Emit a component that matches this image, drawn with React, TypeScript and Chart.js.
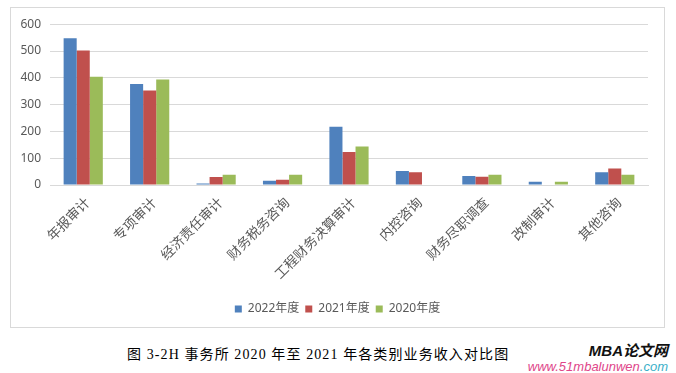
import React, { useEffect, useRef } from "react";
import { Chart, registerables } from "chart.js";

Chart.register(...registerables);

const categories = [
  "年报审计",
  "专项审计",
  "经济责任审计",
  "财务税务咨询",
  "工程财务决算审计",
  "内控咨询",
  "财务尽职调查",
  "改制审计",
  "其他咨询",
];
const seriesNames = ["2022年度", "2021年度", "2020年度"];
const values2022 = [548, 377, 6, 16, 217, 52, 34, 12, 48];
const values2021 = [502, 353, 30, 20, 123, 48, 31, 0, 62];
const values2020 = [404, 394, 38, 38, 144, 0, 38, 12, 38];
const yTicks = [0, 100, 200, 300, 400, 500, 600];
const colors = ["#4F81BD", "#C0504D", "#9BBB59"];

export default function App() {
  const ref = useRef<HTMLCanvasElement | null>(null);

  useEffect(() => {
    if (!ref.current) return;
    const seriesData = [values2022, values2021, values2020];
    const chart = new Chart(ref.current, {
      type: "bar",
      data: {
        labels: categories,
        datasets: seriesNames.map((name, i) => ({
          label: name,
          data: seriesData[i],
          backgroundColor: colors[i],
          borderWidth: 0,
          categoryPercentage: 0.59,
          barPercentage: 1,
        })),
      },
      options: {
        animation: false,
        responsive: false,
        maintainAspectRatio: false,
        layout: { padding: { left: 0, right: 0, top: 15, bottom: 2 } },
        plugins: {
          legend: {
            position: "bottom",
            labels: {
              boxWidth: 7,
              boxHeight: 7,
              padding: 6,
              color: "#595959",
              font: { size: 12, family: "'Noto Sans', 'Noto Sans CJK SC'" },
            },
          },
          tooltip: { enabled: false },
        },
        scales: {
          x: {
            grid: { display: false, drawTicks: false },
            border: { display: true, color: "#D9D9D9", width: 1 },
            ticks: {
              minRotation: 45,
              maxRotation: 45,
              autoSkip: false,
              padding: 9,
              labelOffset: 4,
              color: "#595959",
              font: { size: 13.5, family: "'Noto Sans CJK SC'" },
            },
            afterFit: (scale: any) => {
              scale.height = 112;
            },
          },
          y: {
            min: 0,
            max: 600,
            afterBuildTicks: (scale: any) => {
              scale.ticks = yTicks.map((v) => ({ value: v }));
            },
            grid: { color: "#D9D9D9", drawTicks: false },
            border: { display: false },
            ticks: {
              padding: 9,
              color: "#595959",
              font: { size: 12, family: "'Noto Sans'" },
            },
            afterFit: (scale: any) => {
              scale.width = 39;
            },
          },
          spacer: {
            type: "linear",
            position: "right",
            display: true,
            grid: { display: false, drawTicks: false },
            border: { display: false },
            ticks: { display: false },
            afterFit: (scale: any) => {
              scale.width = 16;
            },
          },
        },
      },
    });
    return () => chart.destroy();
  }, []);

  return (
    <div
      style={{
        position: "absolute",
        left: 0,
        top: 0,
        width: 676,
        height: 373,
        background: "#fff",
        overflow: "hidden",
      }}
    >
      <div
        style={{
          position: "absolute",
          left: 10,
          top: 7,
          width: 655,
          height: 321,
          border: "1px solid #D9D9D9",
          boxSizing: "border-box",
        }}
      >
        <canvas ref={ref} width={653} height={319} style={{ display: "block" }} />
      </div>
      <div
        style={{
          position: "absolute",
          left: 127,
          top: 346,
          whiteSpace: "nowrap",
          fontSize: 14,
          letterSpacing: 1.1,
          color: "#000",
          fontFamily: "'Liberation Serif', 'Noto Sans CJK SC'",
          lineHeight: "18px",
        }}
      >
        图 3-2H 事务所 2020 年至 2021 年各类别业务收入对比图
      </div>
      <div
        style={{
          position: "absolute",
          right: 8,
          top: 342,
          whiteSpace: "nowrap",
          fontSize: 15,
          fontWeight: "bold",
          fontStyle: "italic",
          color: "#111",
          fontFamily: "'Liberation Sans', 'Noto Sans CJK SC'",
          lineHeight: "18px",
        }}
      >
        MBA论文网
      </div>
      <div
        style={{
          position: "absolute",
          right: 8,
          top: 359,
          whiteSpace: "nowrap",
          fontSize: 13,
          fontStyle: "italic",
          fontFamily: "'Liberation Sans'",
          lineHeight: "16px",
        }}
      >
        <span style={{ color: "#E0468A" }}>www.51mbalunwen</span>
        <span style={{ color: "#3AB0C8" }}>.com</span>
      </div>
    </div>
  );
}
